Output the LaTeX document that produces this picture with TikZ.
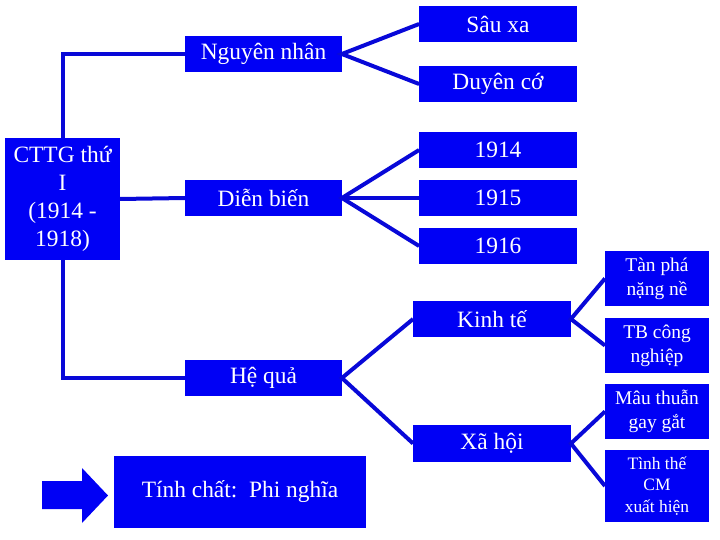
\documentclass[tikz,border=0pt]{standalone}
\usepackage{fontspec}
\setmainfont{Liberation Serif}
\usepackage{tikz}
\definecolor{boxblue}{HTML}{0000F5}
\definecolor{linkblue}{HTML}{0808D8}
\tikzset{
  box/.style={fill=boxblue,text=white,inner sep=0pt,align=center,minimum width=157,minimum height=36,font=\fontsize{23.5}{28}\selectfont},
  small/.style={box,minimum width=104,minimum height=55,font=\fontsize{19.5}{24}\selectfont},
  link/.style={draw=linkblue,line width=4bp}
}
\begin{document}
\begin{tikzpicture}[x=1bp,y=-1bp]
  \useasboundingbox (0,0) rectangle (720,540);
  \node[box,minimum width=115,minimum height=122] (cttg) at (62.5,199) {CTTG thứ\\I\\(1914 -\\1918)};
  \node[box] (nguyen) at (263.5,54) {Nguyên nhân};
  \node[box] (dienbien) at (263.5,198) {Diễn biến};
  \node[box] (hequa) at (263.5,378) {Hệ quả};
  \node[box,minimum width=158] (sauxa) at (498,24) {Sâu xa};
  \node[box,minimum width=158] (duyenco) at (498,84) {Duyên cớ};
  \node[box,minimum width=158] (y1914) at (498,150) {1914};
  \node[box,minimum width=158] (y1915) at (498,198) {1915};
  \node[box,minimum width=158] (y1916) at (498,246) {1916};
  \node[box,minimum width=158] (kinhte) at (492,319) {Kinh tế};
  \node[box,minimum width=158,minimum height=37] (xahoi) at (492,443.5) {Xã hội};
  \node[small] (tanpha) at (657,278.5) {Tàn phá\\nặng nề};
  \node[small] (tbcn) at (657,345.5) {TB công\\nghiệp};
  \node[small] (mauthuan) at (657,411.5) {Mâu thuẫn\\gay gắt};
  \node[small,minimum height=72,font=\fontsize{17.5}{21.5}\selectfont] (tinhthe) at (657,486) {Tình thế\\CM\\xuất hiện};
  \node[box,minimum width=252,minimum height=72] (tinhchat) at (240,492) {Tính chất:\ \ Phi nghĩa};
  \fill[boxblue] (42,481) -- (82,481) -- (82,468) -- (108,495.5) -- (82,523) -- (82,509) -- (42,509) -- cycle;
  \draw[link] (nguyen.west) -| (cttg.north);
  \draw[link] (hequa.west) -| (cttg.south);
  \draw[link] (cttg.east) -- (dienbien.west);
  \draw[link] (sauxa.west) -- (nguyen.east) -- (duyenco.west);
  \draw[link] (y1914.west) -- (dienbien.east) -- (y1916.west);
  \draw[link] (dienbien.east) -- (y1915.west);
  \draw[link] (kinhte.west) -- (hequa.east) -- (xahoi.west);
  \draw[link] (tanpha.west) -- (kinhte.east) -- (tbcn.west);
  \draw[link] (mauthuan.west) -- (xahoi.east) -- (tinhthe.west);
\end{tikzpicture}
\end{document}
